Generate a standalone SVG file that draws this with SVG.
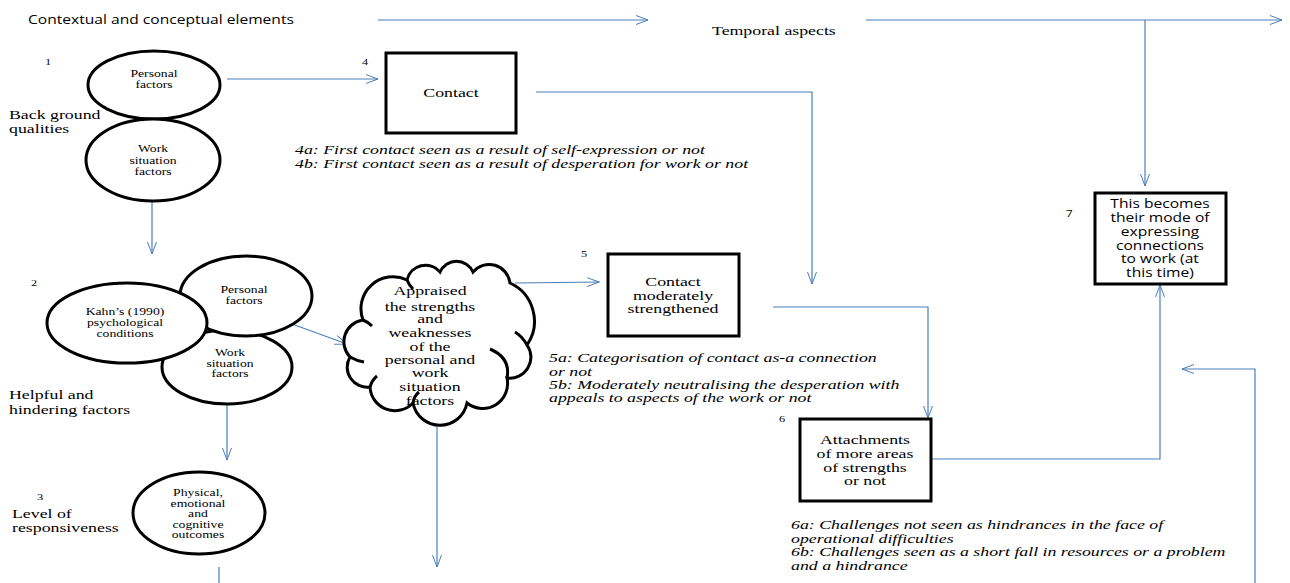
<svg xmlns="http://www.w3.org/2000/svg" width="1290" height="583" viewBox="0 0 1290 583">
<defs>
<marker id="ah" markerUnits="userSpaceOnUse" markerWidth="14" markerHeight="12" viewBox="-1 -1 14 12" refX="12" refY="4.5" orient="auto">
<path d="M0,0 L12,4.5 L0,9" fill="none" stroke="#4A7EBB" stroke-width="1"/>
</marker>
</defs>
<style>
.c{fill:none;stroke:#4A7EBB;stroke-width:1.2}
.a{marker-end:url(#ah)}
.sh{fill:#fff;stroke:#000;stroke-width:3}
.hk{fill:none;stroke:#000;stroke-width:3}
.s{font-family:"Liberation Serif","Times New Roman",serif;font-size:13px;fill:#000}
.i{font-style:italic}
.m{font-size:10px}
.n{font-size:9px}
.ss{font-family:"Open Sans","Liberation Sans",sans-serif;font-size:12px;fill:#000}
.mid{text-anchor:middle}
</style>
<rect width="1290" height="583" fill="#fff"/>

<g id="connectors">
<path class="c a" d="M378,20 H648"/>
<path class="c a" d="M866,20 H1282"/>
<path class="c a" d="M1145,20 V186"/>
<path class="c a" d="M227,79 H378"/>
<path class="c a" d="M536,92 H812 V284"/>
<path class="c a" d="M152,202 V254"/>
<path class="c a" d="M292,324 L347,344"/>
<path class="c a" d="M227,404 V460"/>
<path class="c a" d="M515,283 L599,282"/>
<path class="c a" d="M437,427 V567"/>
<path class="c" d="M219,567 V583"/>
<path class="c a" d="M773,307 H928 V418"/>
<path class="c a" d="M931,459 H1160 V285"/>
<path class="c a" d="M1255,583 V369 H1182"/>
</g>

<g id="headers">
<text class="ss" transform="matrix(1.3 0 0 1 28 24)">Contextual and conceptual elements</text>
<text class="s" transform="matrix(1.37 0 0 1 712 35)">Temporal aspects</text>
<text class="s" transform="matrix(1.37 0 0 1 9 119)">Back ground</text>
<text class="s" transform="matrix(1.37 0 0 1 9 133)">qualities</text>
<text class="s" transform="matrix(1.37 0 0 1 9 399)">Helpful and</text>
<text class="s" transform="matrix(1.37 0 0 1 9 414)">hindering factors</text>
<text class="s" transform="matrix(1.37 0 0 1 12 518)">Level of</text>
<text class="s" transform="matrix(1.37 0 0 1 12 532)">responsiveness</text>
<text class="s n" transform="matrix(1.37 0 0 1 45 65)">1</text>
<text class="s n" transform="matrix(1.37 0 0 1 31 286)">2</text>
<text class="s n" transform="matrix(1.37 0 0 1 37 500)">3</text>
<text class="s n" transform="matrix(1.37 0 0 1 362 65)">4</text>
<text class="s n" transform="matrix(1.37 0 0 1 581 257)">5</text>
<text class="s n" transform="matrix(1.37 0 0 1 779 422)">6</text>
<text class="ss" style="font-size:9px" transform="matrix(1.3 0 0 1 1066 217)">7</text>
</g>

<g id="n1-personal">
<ellipse class="sh" cx="154" cy="85" rx="66" ry="34"/>
<text class="s m mid" transform="matrix(1.37 0 0 1 154 77)">Personal</text>
<text class="s m mid" transform="matrix(1.37 0 0 1 154 88)">factors</text>
</g>
<g id="n1-work">
<ellipse class="sh" cx="153" cy="160" rx="67" ry="41"/>
<text class="s m mid" transform="matrix(1.37 0 0 1 153 152)">Work</text>
<text class="s m mid" transform="matrix(1.37 0 0 1 153 164)">situation</text>
<text class="s m mid" transform="matrix(1.37 0 0 1 153 175)">factors</text>
</g>

<g id="n4-contact">
<rect class="sh" x="386" y="53" width="130" height="80"/>
<text class="s mid" transform="matrix(1.37 0 0 1 451 97)">Contact</text>
<text class="s i" transform="matrix(1.37 0 0 1 295 154)">4a: First contact seen as a result of self-expression or not</text>
<text class="s i" transform="matrix(1.37 0 0 1 295 168)">4b: First contact seen as a result of desperation for work or not</text>
</g>

<g id="n2-work">
<ellipse class="sh" cx="227" cy="367" rx="65" ry="37"/>
<text class="s m mid" transform="matrix(1.37 0 0 1 230 356)">Work</text>
<text class="s m mid" transform="matrix(1.37 0 0 1 230 367)">situation</text>
<text class="s m mid" transform="matrix(1.37 0 0 1 230 377)">factors</text>
</g>
<g id="n2-personal">
<ellipse class="sh" cx="246" cy="296" rx="66" ry="40"/>
<text class="s m mid" transform="matrix(1.37 0 0 1 244 293)">Personal</text>
<text class="s m mid" transform="matrix(1.37 0 0 1 244 304)">factors</text>
</g>
<g id="n2-kahn">
<ellipse class="sh" cx="127" cy="323" rx="80" ry="40"/>
<text class="s m mid" transform="matrix(1.37 0 0 1 125 315)">Kahn’s (1990)</text>
<text class="s m mid" transform="matrix(1.37 0 0 1 125 326)">psychological</text>
<text class="s m mid" transform="matrix(1.37 0 0 1 125 337)">conditions</text>
</g>

<g id="n-cloud">
<path class="sh" d="M363,320 A32,32 0 0 1 407,280 A19,19 0 0 1 440,272 A18,18 0 0 1 473,272 A21,21 0 0 1 510,283 A42,42 0 0 1 527,345 A21,21 0 0 1 507,378 A25,25 0 0 1 467,403 A27.5,27.5 0 0 1 413,403 A25,25 0 0 1 370,387 A20,20 0 0 1 350,357 A22,22 0 0 1 363,320 Z"/>
<path class="hk" d="M490,349 Q511,358 507,378 M527,345 Q522,336 515,332 M350,357 Q357,361 364,362 M413,403 Q414,396 419,392 M370,387 Q372,380 377,376 M407,280 Q409,285 413,289 M363,320 Q368,322 372,326"/>
<text class="s mid" transform="matrix(1.37 0 0 1 430 295)">Appraised</text>
<text class="s mid" transform="matrix(1.37 0 0 1 430 311)">the strengths</text>
<text class="s mid" transform="matrix(1.37 0 0 1 430 323)">and</text>
<text class="s mid" transform="matrix(1.37 0 0 1 430 337)">weaknesses</text>
<text class="s mid" transform="matrix(1.37 0 0 1 430 351)">of the</text>
<text class="s mid" transform="matrix(1.37 0 0 1 430 364)">personal and</text>
<text class="s mid" transform="matrix(1.37 0 0 1 430 377)">work</text>
<text class="s mid" transform="matrix(1.37 0 0 1 430 391)">situation</text>
<text class="s mid" transform="matrix(1.37 0 0 1 430 405)">factors</text>
</g>

<g id="n3-outcomes">
<ellipse class="sh" cx="199" cy="513" rx="66" ry="41"/>
<text class="s m mid" transform="matrix(1.37 0 0 1 198 496)">Physical,</text>
<text class="s m mid" transform="matrix(1.37 0 0 1 198 506.5)">emotional</text>
<text class="s m mid" transform="matrix(1.37 0 0 1 198 517)">and</text>
<text class="s m mid" transform="matrix(1.37 0 0 1 198 527.5)">cognitive</text>
<text class="s m mid" transform="matrix(1.37 0 0 1 198 538)">outcomes</text>
</g>

<g id="n5-strengthened">
<rect class="sh" x="608" y="254" width="131" height="82"/>
<text class="s mid" transform="matrix(1.37 0 0 1 673 286)">Contact</text>
<text class="s mid" transform="matrix(1.37 0 0 1 673 300)">moderately</text>
<text class="s mid" transform="matrix(1.37 0 0 1 673 313)">strengthened</text>
<text class="s i" transform="matrix(1.37 0 0 1 549 362)">5a: Categorisation of contact as-a connection</text>
<text class="s i" transform="matrix(1.37 0 0 1 549 376)">or not</text>
<text class="s i" transform="matrix(1.37 0 0 1 549 389)">5b: Moderately neutralising the desperation with</text>
<text class="s i" transform="matrix(1.37 0 0 1 549 402)">appeals to aspects of the work or not</text>
</g>

<g id="n6-attachments">
<rect class="sh" x="800" y="419" width="131" height="82"/>
<text class="s mid" transform="matrix(1.37 0 0 1 865 444)">Attachments</text>
<text class="s mid" transform="matrix(1.37 0 0 1 865 458)">of more areas</text>
<text class="s mid" transform="matrix(1.37 0 0 1 865 472)">of strengths</text>
<text class="s mid" transform="matrix(1.37 0 0 1 865 485)">or not</text>
<text class="s i" transform="matrix(1.37 0 0 1 791 529)">6a: Challenges not seen as  hindrances in the face of</text>
<text class="s i" transform="matrix(1.37 0 0 1 791 543)">operational difficulties</text>
<text class="s i" transform="matrix(1.37 0 0 1 791 556)">6b: Challenges seen as a short fall in resources or a problem</text>
<text class="s i" transform="matrix(1.37 0 0 1 791 570)">and a hindrance</text>
</g>

<g id="n7-mode">
<rect class="sh" x="1095" y="193" width="131" height="91"/>
<text class="ss mid" transform="matrix(1.3 0 0 1 1160 208)">This becomes</text>
<text class="ss mid" transform="matrix(1.3 0 0 1 1160 222)">their mode of</text>
<text class="ss mid" transform="matrix(1.3 0 0 1 1160 236)">expressing</text>
<text class="ss mid" transform="matrix(1.3 0 0 1 1160 250)">connections</text>
<text class="ss mid" transform="matrix(1.3 0 0 1 1160 263)">to work (at</text>
<text class="ss mid" transform="matrix(1.3 0 0 1 1160 277)">this time)</text>
</g>
</svg>
